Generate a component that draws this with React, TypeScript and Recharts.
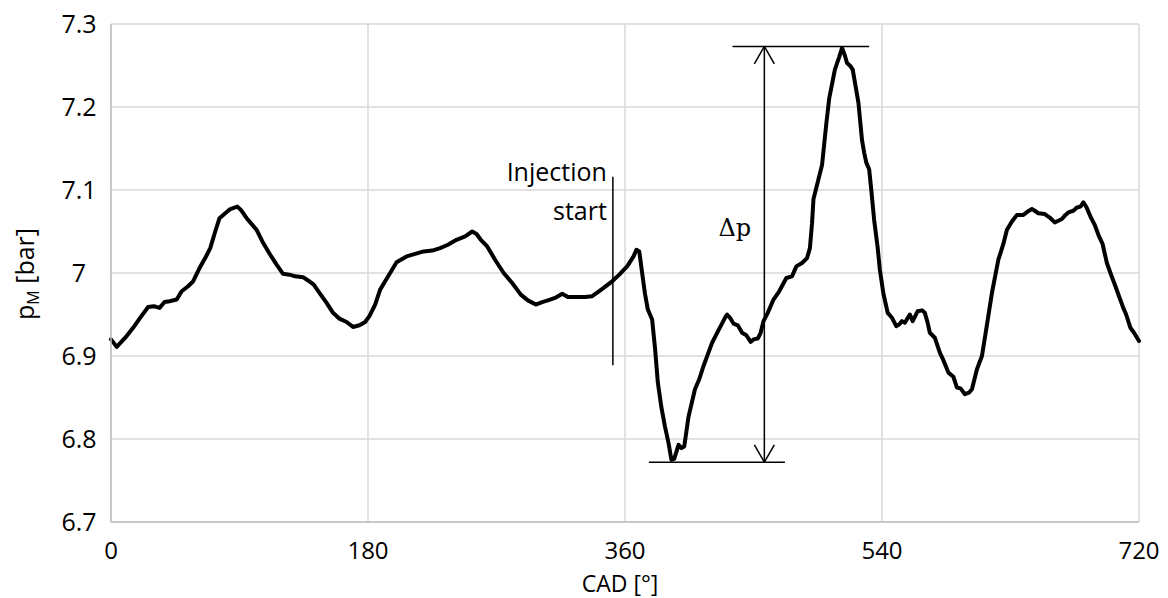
import React from 'react';
import {
  LineChart,
  Line,
  XAxis,
  YAxis,
  CartesianGrid,
  ReferenceLine,
  ReferenceDot,
} from 'recharts';

// crank angle [°] and manifold pressure [bar]
const cad = [
  0, 4, 10, 15.5, 20, 26, 30, 34, 37.5, 41, 46, 49.5, 54, 57.5, 62, 66, 69.5, 73, 76, 80,
  83.5, 88.5, 91, 95, 99, 102, 106, 111.5, 116, 120.5, 125, 129, 134.5, 138, 142, 146, 151,
  155.5, 160, 165, 169.5, 174, 178, 181, 185, 188.5, 192, 195.5, 200, 203, 207, 213, 219,
  225, 230.5, 236, 242, 248, 253, 256, 259, 263.5, 269, 275, 281, 287, 292, 297.5, 302, 306,
  311, 316, 320, 326, 332, 337, 341, 345, 351, 356, 361.5, 366, 368, 370, 372, 374, 376, 379,
  381, 383, 385.5, 388, 390.5, 392.5, 394.5, 397.5, 399.5, 401.5, 404.5, 409, 412, 415, 418,
  421, 424, 427, 430, 431.5, 434, 436, 439, 442, 445, 448, 450, 453, 455, 457, 460, 464, 468,
  473, 477, 480, 484, 487.5, 489.5, 491, 492, 495.5, 498, 501, 503, 507, 510, 512, 514, 515.5,
  518, 519.5, 522, 523.5, 526, 527.5, 529, 531, 532.5, 534.5, 537, 538.5, 541, 544, 547, 550,
  552, 554, 556, 559.5, 561.5, 565, 568, 570, 572, 573.5, 577, 580.5, 583, 586.5, 590, 592.5,
  595, 598, 601, 603, 606.5, 610, 613, 617, 621.5, 625, 627.5, 631, 634.5, 639, 642, 645, 647,
  649.5, 654, 658, 661, 663.5, 666, 668.5, 670.5, 674, 676.5, 679, 681, 683, 686, 689, 692,
  694.5, 697.5, 700, 703.5, 706, 709, 711, 714, 716.5, 720,
];

const pM = [
  6.92, 6.911, 6.922, 6.934, 6.945, 6.959, 6.96, 6.958, 6.965, 6.966, 6.968, 6.978, 6.984,
  6.99, 7.006, 7.018, 7.03, 7.05, 7.066, 7.072, 7.077, 7.08, 7.076, 7.066, 7.058, 7.052, 7.038,
  7.022, 7.01, 6.999, 6.998, 6.996, 6.995, 6.991, 6.986, 6.976, 6.964, 6.952, 6.945, 6.941,
  6.935, 6.937, 6.941, 6.948, 6.962, 6.98, 6.99, 7.0, 7.013, 7.016, 7.02, 7.023, 7.026, 7.027,
  7.03, 7.034, 7.04, 7.044, 7.05, 7.047, 7.04, 7.032, 7.016, 7.0, 6.988, 6.974, 6.967, 6.962,
  6.965, 6.967, 6.97, 6.975, 6.971, 6.971, 6.971, 6.972, 6.977, 6.982, 6.99, 6.998, 7.008,
  7.02, 7.028, 7.026, 7.0, 6.975, 6.956, 6.944, 6.91, 6.868, 6.838, 6.815, 6.795, 6.775,
  6.776, 6.793, 6.789, 6.791, 6.827, 6.86, 6.872, 6.888, 6.902, 6.916, 6.926, 6.936, 6.946,
  6.95, 6.945, 6.939, 6.937, 6.928, 6.925, 6.917, 6.92, 6.921, 6.928, 6.942, 6.952, 6.968,
  6.978, 6.994, 6.996, 7.008, 7.012, 7.018, 7.03, 7.06, 7.089, 7.113, 7.13, 7.18, 7.21, 7.245,
  7.26, 7.271, 7.262, 7.253, 7.249, 7.245, 7.22, 7.205, 7.16, 7.145, 7.133, 7.125, 7.1, 7.064,
  7.03, 7.004, 6.975, 6.952, 6.946, 6.936, 6.938, 6.942, 6.94, 6.95, 6.942, 6.954, 6.955,
  6.952, 6.94, 6.928, 6.922, 6.904, 6.895, 6.88, 6.875, 6.862, 6.861, 6.854, 6.856, 6.86,
  6.884, 6.9, 6.932, 6.976, 7.016, 7.035, 7.052, 7.062, 7.07, 7.07, 7.074, 7.077, 7.075,
  7.072, 7.071, 7.066, 7.061, 7.063, 7.065, 7.07, 7.073, 7.075, 7.079, 7.08, 7.085, 7.08,
  7.068, 7.058, 7.044, 7.035, 7.012, 7.0, 6.984, 6.972, 6.958, 6.95, 6.934, 6.928, 6.918,
];

const xTicks = [0, 180, 360, 540, 720];
const yTicks = [6.7, 6.8, 6.9, 7, 7.1, 7.2, 7.3];

// annotation anchors in data units
const injectionX = 351.5;
const injectionRange = [6.889, 7.116];
const deltaX = 457.6;
const deltaTop = 7.273;
const deltaBottom = 6.772;

const data = cad.map((x, i) => ({ cad: x, p: pM[i] }));

const FONT = '"Open Sans", "Noto Sans", sans-serif';
const GRID = '#d9d9d9';

const YTick = (props: any) => {
  const { x, y, payload } = props;
  return (
    <text x={x - 24} y={y} dy="0.35em" textAnchor="middle" fontFamily={FONT} fontSize={25} fill="#000">
      {payload.value}
    </text>
  );
};

const XTick = (props: any) => {
  const { x, y, payload } = props;
  return (
    <text x={x} y={y + 29} textAnchor="middle" fontFamily={FONT} fontSize={24} fill="#000">
      {payload.value}
    </text>
  );
};

const textLabel = (lines: string[], anchor: 'end' | 'middle', serif = false) => (props: any) => {
  const vb = props.viewBox || {};
  const cx = vb.x + (vb.width || 0) / 2;
  const cy = vb.y + (vb.height || 0) / 2;
  return (
    <g>
      {lines.map((t, i) => (
        <text
          key={t}
          x={cx}
          y={cy + i * 39}
          textAnchor={anchor}
          fontFamily={serif ? '"DejaVu Serif", serif' : FONT}
          fontSize={serif ? 24 : 25}
          fill="#000"
        >
          {t}
        </text>
      ))}
    </g>
  );
};

const black = { stroke: '#000', strokeWidth: 1.5 };

export default function App() {
  return (
    <div style={{ position: 'absolute', left: 0, top: 0, background: '#fff' }}>
      <LineChart width={1168} height={598} data={data} margin={{ top: 24, right: 29, bottom: 36, left: 0 }}>
        <CartesianGrid stroke={GRID} strokeWidth={1.5} />
        <XAxis
          dataKey="cad"
          type="number"
          domain={[0, 720]}
          ticks={xTicks}
          height={40}
          axisLine={{ stroke: '#bfbfbf', strokeWidth: 1.5 }}
          tickLine={false}
          tick={<XTick />}
          interval={0}
        />
        <YAxis
          type="number"
          domain={[6.7, 7.3]}
          ticks={yTicks}
          width={111}
          axisLine={{ stroke: '#bfbfbf', strokeWidth: 1.5 }}
          tickLine={false}
          tick={<YTick />}
          interval={0}
        />
        <Line
          dataKey="p"
          type="linear"
          stroke="#000"
          strokeWidth={4}
          strokeLinejoin="round"
          strokeLinecap="round"
          dot={false}
          isAnimationActive={false}
        />

        {/* injection start marker */}
        <ReferenceLine
          segment={[{ x: injectionX, y: injectionRange[0] }, { x: injectionX, y: injectionRange[1] }]}
          {...black}
        />
        <ReferenceDot x={347.3} y={7.111} r={0} fill="none" stroke="none" label={textLabel(['Injection', 'start'], 'end')} />

        {/* delta p dimension */}
        <ReferenceLine segment={[{ x: 435.3, y: deltaTop }, { x: 531, y: deltaTop }]} {...black} />
        <ReferenceLine segment={[{ x: 376.7, y: deltaBottom }, { x: 472, y: deltaBottom }]} {...black} />
        <ReferenceLine segment={[{ x: deltaX, y: deltaTop }, { x: deltaX, y: deltaBottom }]} {...black} />
        <ReferenceLine segment={[{ x: deltaX - 7, y: deltaTop - 0.021 }, { x: deltaX, y: deltaTop }]} {...black} />
        <ReferenceLine segment={[{ x: deltaX + 7, y: deltaTop - 0.021 }, { x: deltaX, y: deltaTop }]} {...black} />
        <ReferenceLine segment={[{ x: deltaX - 7, y: deltaBottom + 0.021 }, { x: deltaX, y: deltaBottom }]} {...black} />
        <ReferenceLine segment={[{ x: deltaX + 7, y: deltaBottom + 0.021 }, { x: deltaX, y: deltaBottom }]} {...black} />
        <ReferenceDot x={436.9} y={7.044} r={0} fill="none" stroke="none" label={textLabel(['Δp'], 'middle', true)} />

        <text x={620} y={592} textAnchor="middle" fontFamily={FONT} fontSize={23} fill="#000">
          CAD [°]
        </text>
        <text x={34} y={274} transform="rotate(-90 34 274)" textAnchor="middle" fontFamily={FONT} fontSize={25} fill="#000">
          p<tspan fontSize={16} dy={5}>M</tspan>
          <tspan dy={-5}> [bar]</tspan>
        </text>
      </LineChart>
    </div>
  );
}
